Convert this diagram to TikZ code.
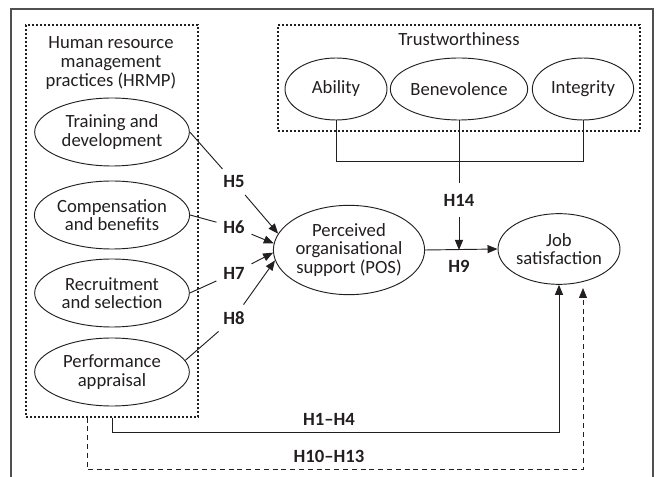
\documentclass[tikz,border=0pt]{standalone}
\usepackage{fontspec}
\setmainfont{Carlito}
\usetikzlibrary{arrows.meta,positioning,shapes.geometric}
\definecolor{HrmInk}{RGB}{35,31,32}
\definecolor{HrmFrame}{RGB}{80,80,80}
\tikzset{
  hrm/construct/.style={
    ellipse,
    draw=HrmInk,
    line width=0.7pt,
    fill=white,
    align=center,
    text=HrmInk,
    inner sep=0pt,
    minimum width=116pt,
    minimum height=51pt,
    font=\fontsize{14}{14}\selectfont
  },
  hrm/group/.style={
    rectangle,
    draw=HrmInk,
    line width=0.9pt,
    dash pattern=on 1.4pt off 1.6pt,
    inner sep=0pt
  },
  hrm/title/.style={align=center, text=HrmInk, font=\fontsize{14}{14}\selectfont},
  hrm/hyp/.style={font=\bfseries\fontsize{14}{14}\selectfont, text=HrmInk, inner sep=5pt},
  hrm/line/.style={line width=0.7pt, draw=HrmInk},
  hrm/arrow/.style={-{Triangle[length=7.5pt,width=6pt]}, line width=0.7pt, draw=HrmInk},
  hrm/dasharrow/.style={hrm/arrow, dash pattern=on 3.8pt off 2.8pt},
  hrm/frame/.style={line width=1.1pt, draw=HrmFrame}
}
\begin{document}
\begin{tikzpicture}[x=0.75pt,y=-0.75pt]
  \useasboundingbox (0,0) rectangle (657,477);
  \draw[hrm/frame] (11,477) |- (653,9) -- (653,477);

  % groups
  \node[hrm/group,minimum width=129pt,minimum height=294pt] (hrmp) at (112,221) {};
  \node[hrm/group,minimum width=271.5pt,minimum height=79.5pt] (trust) at (459,78) {};
  \node[hrm/title] at (111,63) {Human resource\\management\\practices (HRMP)};
  \node[hrm/title] at (459,39) {Trustworthiness};

  % HRM practices
  \node[hrm/construct] (train) at (112,132) {Training and\\development};
  \node[hrm/construct] (comp) at (112,215) {Compensation\\and benefits};
  \node[hrm/construct] (recr) at (112,293) {Recruitment\\and selection};
  \node[hrm/construct] (perf) at (112,372) {Performance\\appraisal};

  % trustworthiness dimensions
  \node[hrm/construct,minimum width=76.5pt,minimum height=46.5pt] (abil) at (336,89) {Ability};
  \node[hrm/construct,minimum width=87pt,minimum height=46.5pt] (benev) at (459,89) {Benevolence};
  \node[hrm/construct,minimum width=76pt,minimum height=46.5pt] (integ) at (583,89) {Integrity};

  % mediator and outcome
  \node[hrm/construct,minimum width=108pt,minimum height=67pt] (pos) at (349,250) {Perceived\\organisational\\support (POS)};
  \node[hrm/construct,minimum width=91.5pt,minimum height=53pt] (job) at (559,249) {Job\\satisfaction};

  % hypotheses
  \node[hrm/hyp] (h5) at (234,182) {H5};
  \node[hrm/hyp] (h6) at (234,227) {H6};
  \node[hrm/hyp] (h7) at (234,273) {H7};
  \node[hrm/hyp] (h8) at (234,318) {H8};
  \node[hrm/hyp,inner sep=0pt] (h9) at (459,266) {H9};
  \node[hrm/hyp,inner ysep=8pt] (h14) at (459,200) {H14};
  \node[hrm/hyp] (h1) at (329,419) {H1–H4};
  \node[hrm/hyp] (h10) at (329,456) {H10–H13};
  \coordinate (jobdash) at (583,288);

  \draw[hrm/line] (train.east) -- (h5);
  \draw[hrm/line] (comp.east) -- (h6);
  \draw[hrm/line] (recr.east) -- (h7);
  \draw[hrm/line] (perf.9) -- (h8);
  \draw[hrm/arrow] (h5) -- (pos.167);
  \draw[hrm/arrow] (h6) -- (pos.175);
  \draw[hrm/arrow] (h7) -- (pos.182);
  \draw[hrm/arrow] (h8) -- (pos.188);

  \draw[hrm/arrow] (pos.east) -- (job.west);
  \draw[hrm/line] (abil.south) -- ++(0,41) -| (integ.south);
  \draw[hrm/line] (benev.south) -- (h14);
  \draw[hrm/arrow] (h14) -- (h14 |- pos.east);

  \draw[hrm/arrow] (hrmp.south) -- ++(0,15) -| (job.south);
  \draw[hrm/dasharrow] (hrmp.south) ++(-25,0) -- ++(0,52) -| (jobdash);
\end{tikzpicture}
\end{document}
